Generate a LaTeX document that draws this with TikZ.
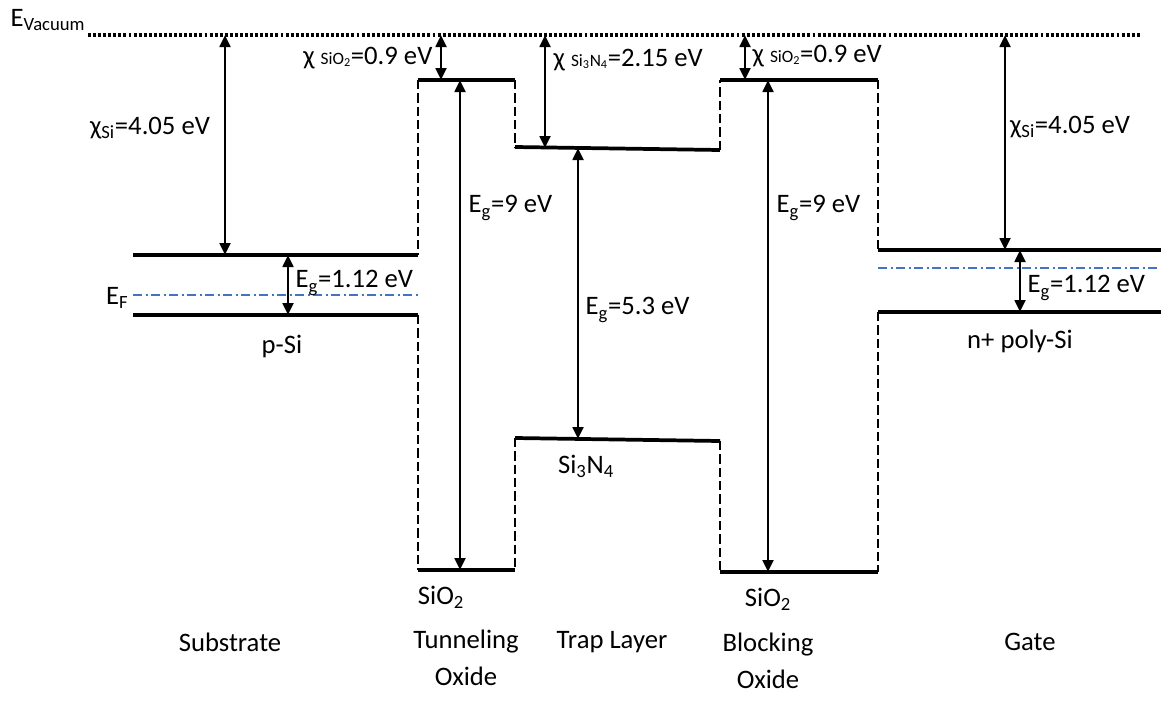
\documentclass[tikz,border=0pt]{standalone}
\usepackage{fontspec}
\setmainfont{Carlito}
\usetikzlibrary{arrows.meta, positioning, calc}
\definecolor{fermiblue}{HTML}{4472C4}
\newcommand{\sm}[1]{{\fontsize{13}{13}\selectfont #1}}

\begin{document}
\begin{tikzpicture}[x=0.75pt, y=-0.75pt,
    band/.style={line width=2.8pt},
    wall/.style={line width=2.2pt, dash pattern=on 7pt off 3pt},
    fermi/.style={fermiblue, line width=0.8pt, dash pattern=on 7pt off 2.5pt on 1.5pt off 2.5pt},
    gap/.style={line width=2pt, {Triangle[length=9pt,width=8pt]}-{Triangle[length=9pt,width=8pt]}},
    lbl/.style={font=\fontsize{20}{24}\selectfont, inner sep=1pt},
    layer/.style={font=\fontsize{20}{28}\selectfont, align=center, inner sep=1pt}]
  \useasboundingbox (0,0) rectangle (1161,715);
  % band edges
  \coordinate (vac0) at (88,35);   \coordinate (vac1) at (1140,35);
  \coordinate (subC0) at (133,255); \coordinate (subC1) at (418,255);
  \coordinate (subV0) at (133,315); \coordinate (subV1) at (418,315);
  \coordinate (toxC0) at (418,80);  \coordinate (toxC1) at (515,80);
  \coordinate (toxV0) at (418,570); \coordinate (toxV1) at (515,570);
  \coordinate (nitC0) at (515,147); \coordinate (nitC1) at (720,150);
  \coordinate (nitV0) at (515,438); \coordinate (nitV1) at (720,441);
  \coordinate (boxC0) at (720,80);  \coordinate (boxC1) at (878,80);
  \coordinate (boxV0) at (720,572); \coordinate (boxV1) at (878,572);
  \coordinate (gatC0) at (878,250); \coordinate (gatC1) at (1161,250);
  \coordinate (gatV0) at (878,312); \coordinate (gatV1) at (1161,312);
  \coordinate (subF0) at (133,295); \coordinate (subF1) at (418,295);
  \coordinate (gatF0) at (878,268); \coordinate (gatF1) at (1161,268);

  \draw[line width=2.4pt, dash pattern=on 2.2pt off 1.6pt] (vac0) -- (vac1);
  \foreach \a/\b in {subC0/subC1, subV0/subV1, toxC0/toxC1, toxV0/toxV1,
                     nitC0/nitC1, nitV0/nitV1, boxC0/boxC1, boxV0/boxV1,
                     gatC0/gatC1, gatV0/gatV1}
    \draw[band] (\a) -- (\b);
  \foreach \a/\b in {toxC0/subC1, subV1/toxV0, toxC1/nitC0, nitV0/toxV1,
                     nitC1/boxC0, nitV1/boxV0, boxC1/gatC0, gatV0/boxV1}
    \draw[wall] (\a) -- (\b);
  \draw[fermi] (subF0) -- (subF1);
  \draw[fermi] (gatF0) -- (gatF1);

  % energy arrows
  \coordinate (chiSub) at (225,255);
  \coordinate (egSub) at (288,255);  \coordinate (egSubV) at (288,315);
  \coordinate (chiTox) at (441,80);
  \coordinate (egTox) at (460,80);   \coordinate (egToxV) at (460,570);
  \coordinate (chiNit) at (545,148);
  \coordinate (egNit) at (578,148);  \coordinate (egNitV) at (578,439);
  \coordinate (chiBox) at (745,80);
  \coordinate (egBox) at (768,80);   \coordinate (egBoxV) at (768,572);
  \coordinate (chiGat) at (1005,250);
  \coordinate (egGat) at (1020,250); \coordinate (egGatV) at (1020,312);
  \foreach \c in {chiSub, chiTox, chiNit, chiBox, chiGat}
    \draw[gap] (\c |- vac0) -- (\c);
  \foreach \a/\b in {egSub/egSubV, egTox/egToxV, egNit/egNitV,
                     egBox/egBoxV, egGat/egGatV}
    \draw[gap] (\a) -- (\b);

  % labels
  \node[lbl] (evac) at (48,20) {E\textsubscript{Vacuum}};
  \node[lbl, anchor=east] (ef) at (130,298) {E\textsubscript{F}};
  \node[lbl] (chiSubL) at (150,128) {χ\textsubscript{Si}=4.05 eV};
  \node[lbl, anchor=west] (egSubL) at (294,283) {E\textsubscript{g}=1.12 eV};
  \node[lbl] (psi) at (282,346) {p-Si};
  \node[lbl, anchor=east] (chiToxL) at (434,58) {χ \sm{SiO\textsubscript{2}}=0.9 eV};
  \node[lbl, anchor=west] (egToxL) at (467,208) {E\textsubscript{g}=9 eV};
  \node[lbl] (toxL) at (441,597) {SiO\textsubscript{2}};
  \node[lbl, anchor=west] (chiNitL) at (552,60) {χ \sm{Si\textsubscript{3}N\textsubscript{4}}=2.15 eV};
  \node[lbl, anchor=west] (egNitL) at (584,310) {E\textsubscript{g}=5.3 eV};
  \node[lbl] (nitL) at (586,466) {Si\textsubscript{3}N\textsubscript{4}};
  \node[lbl, anchor=west] (chiBoxL) at (751,56) {χ \sm{SiO\textsubscript{2}}=0.9 eV};
  \node[lbl, anchor=west] (egBoxL) at (775,208) {E\textsubscript{g}=9 eV};
  \node[lbl] (boxL) at (768,599) {SiO\textsubscript{2}};
  \node[lbl] (chiGatL) at (1070,127) {χ\textsubscript{Si}=4.05 eV};
  \node[lbl, anchor=west] (egGatL) at (1026,288) {E\textsubscript{g}=1.12 eV};
  \node[lbl] (npsi) at (1020,341) {n+ poly-Si};

  \node[layer] (substrate) at (230,642) {Substrate};
  \node[layer, anchor=north] (tunnel) at (466,628) {Tunneling\\Oxide};
  \node[layer] (trap) at (612,642) {Trap Layer};
  \node[layer, anchor=north] (block) at (768,631) {Blocking\\Oxide};
  \node[layer] (gate) at (1030,642) {Gate};
\end{tikzpicture}
\end{document}
